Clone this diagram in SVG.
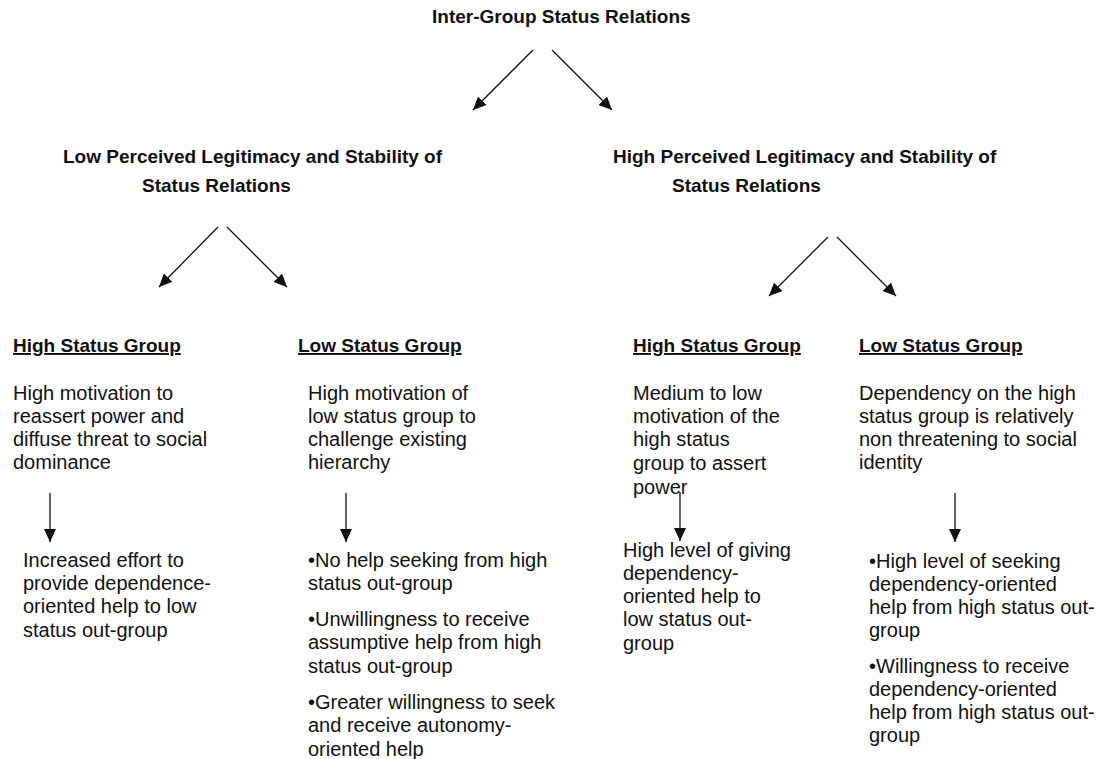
<svg xmlns="http://www.w3.org/2000/svg" width="1102" height="759" viewBox="0 0 1102 759">
<style>
  text { font-family: "Liberation Sans", Arial, sans-serif; fill: #111; }
  .h { font-size: 19px; font-weight: bold; }
  .u { text-decoration: underline; }
  .b { font-size: 20px; }
  .c { stroke: #111; stroke-width: 1.3; fill: none; marker-end: url(#ah); }
</style>
<defs>
  <marker id="ah" viewBox="0 0 13 12" refX="13" refY="6" markerWidth="13" markerHeight="12" markerUnits="userSpaceOnUse" orient="auto">
    <path d="M0,0 L13,6 L0,12 z" fill="#111"/>
  </marker>
</defs>
<rect width="1102" height="759" fill="#fff"/>

<g id="root"><text class="h" x="432" y="23">Inter-Group Status Relations</text></g>

<g id="low-legit">
  <text class="h" x="63" y="163">Low Perceived Legitimacy and Stability of</text>
  <text class="h" x="142" y="192">Status Relations</text>
</g>
<g id="high-legit">
  <text class="h" x="613" y="163">High Perceived Legitimacy and Stability of</text>
  <text class="h" x="672" y="192">Status Relations</text>
</g>

<g id="low-high-group">
  <text class="h u" x="13" y="352">High Status Group</text>
  <text class="b" x="13" y="400">High motivation to</text>
  <text class="b" x="13" y="423">reassert power and</text>
  <text class="b" x="13" y="446">diffuse threat to social</text>
  <text class="b" x="13" y="469">dominance</text>
</g>
<g id="low-low-group">
  <text class="h u" x="298" y="352">Low Status Group</text>
  <text class="b" x="308" y="400">High motivation of</text>
  <text class="b" x="308" y="423">low status group to</text>
  <text class="b" x="308" y="446">challenge existing</text>
  <text class="b" x="308" y="469">hierarchy</text>
</g>
<g id="high-high-group">
  <text class="h u" x="633" y="352">High Status Group</text>
  <text class="b" x="633" y="400">Medium to low</text>
  <text class="b" x="633" y="423">motivation of the</text>
  <text class="b" x="633" y="446">high status</text>
  <text class="b" x="633" y="470">group to assert</text>
  <text class="b" x="633" y="494">power</text>
</g>
<g id="high-low-group">
  <text class="h u" x="859" y="352">Low Status Group</text>
  <text class="b" x="859" y="400">Dependency on the high</text>
  <text class="b" x="859" y="423">status group is relatively</text>
  <text class="b" x="859" y="446">non threatening to social</text>
  <text class="b" x="859" y="469">identity</text>
</g>

<g id="outcome-1">
  <text class="b" x="23" y="567">Increased effort to</text>
  <text class="b" x="23" y="590">provide dependence-</text>
  <text class="b" x="23" y="613">oriented help to low</text>
  <text class="b" x="23" y="637">status out-group</text>
</g>
<g id="outcome-2">
  <text class="b" x="308" y="567">•No help seeking from high</text>
  <text class="b" x="308" y="590">status out-group</text>
  <text class="b" x="308" y="626">•Unwillingness to receive</text>
  <text class="b" x="308" y="649">assumptive help from high</text>
  <text class="b" x="308" y="673">status out-group</text>
  <text class="b" x="308" y="709">•Greater willingness to seek</text>
  <text class="b" x="308" y="732">and receive autonomy-</text>
  <text class="b" x="308" y="756">oriented help</text>
</g>
<g id="outcome-3">
  <text class="b" x="623" y="557">High level of giving</text>
  <text class="b" x="623" y="580">dependency-</text>
  <text class="b" x="623" y="603">oriented help to</text>
  <text class="b" x="623" y="626">low status out-</text>
  <text class="b" x="623" y="650">group</text>
</g>
<g id="outcome-4">
  <text class="b" x="869" y="568">•High level of seeking</text>
  <text class="b" x="869" y="591">dependency-oriented</text>
  <text class="b" x="869" y="614">help from high status out-</text>
  <text class="b" x="869" y="637">group</text>
  <text class="b" x="869" y="673">•Willingness to receive</text>
  <text class="b" x="869" y="696">dependency-oriented</text>
  <text class="b" x="869" y="719">help from high status out-</text>
  <text class="b" x="869" y="742">group</text>
</g>

<g id="connectors">
  <line class="c" x1="533" y1="50" x2="473" y2="110"/>
  <line class="c" x1="552" y1="50" x2="612" y2="110"/>
  <line class="c" x1="218" y1="227" x2="159" y2="287"/>
  <line class="c" x1="227" y1="227" x2="287" y2="287"/>
  <line class="c" x1="828" y1="237" x2="769" y2="296"/>
  <line class="c" x1="837" y1="237" x2="896" y2="296"/>
  <line class="c" x1="50" y1="493" x2="50" y2="542"/>
  <line class="c" x1="346" y1="493" x2="346" y2="542"/>
  <line class="c" x1="680" y1="492" x2="680" y2="541"/>
  <line class="c" x1="955" y1="493" x2="955" y2="542"/>
</g>
</svg>
